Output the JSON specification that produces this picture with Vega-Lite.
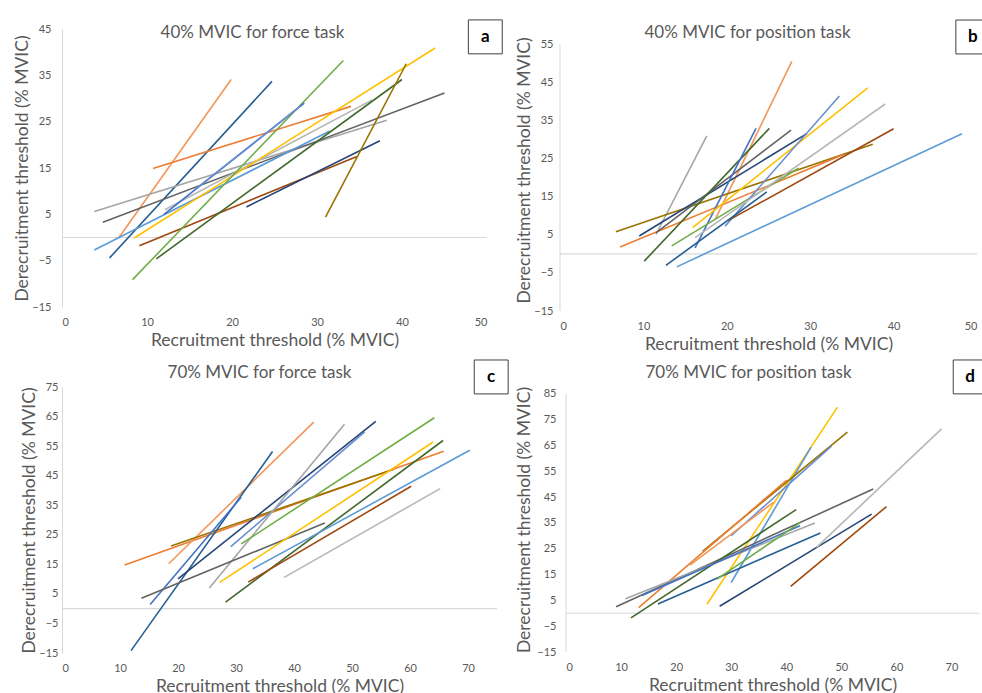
{
  "$schema": "https://vega.github.io/schema/vega-lite/v6.json",
  "padding": {"left": 13, "top": 17, "right": 0, "bottom": 0},
  "background": "white",
  "datasets": {
    "segs": [
      {"p":"a","s":14,"x":6.7,"y":0},{"p":"a","s":14,"x":19.9,"y":34.1},
      {"p":"a","s":11,"x":5.6,"y":-4.4},{"p":"a","s":11,"x":24.7,"y":33.7},
      {"p":"a","s":2,"x":10.7,"y":14.9},{"p":"a","s":2,"x":34,"y":28.3},
      {"p":"a","s":3,"x":3.8,"y":5.6},{"p":"a","s":3,"x":38.2,"y":25.3},
      {"p":"a","s":9,"x":4.8,"y":3.3},{"p":"a","s":9,"x":45,"y":31.2},
      {"p":"a","s":15,"x":12.1,"y":6},{"p":"a","s":15,"x":36.5,"y":29.7},
      {"p":"a","s":5,"x":3.8,"y":-2.7},{"p":"a","s":5,"x":31.5,"y":23},
      {"p":"a","s":4,"x":8.5,"y":-0.1},{"p":"a","s":4,"x":43.9,"y":40.9},
      {"p":"a","s":8,"x":9.1,"y":-1.8},{"p":"a","s":8,"x":34.7,"y":17.5},
      {"p":"a","s":6,"x":8.3,"y":-9.1},{"p":"a","s":6,"x":33.1,"y":38.2},
      {"p":"a","s":12,"x":11.1,"y":-4.6},{"p":"a","s":12,"x":40,"y":34.1},
      {"p":"a","s":7,"x":21.7,"y":6.6},{"p":"a","s":7,"x":37.4,"y":20.9},
      {"p":"a","s":10,"x":31,"y":4.4},{"p":"a","s":10,"x":40.5,"y":37.5},
      {"p":"a","s":1,"x":12,"y":5},{"p":"a","s":1,"x":28.5,"y":29},
      {"p":"a","s":13,"x":15.6,"y":10.3},{"p":"a","s":13,"x":28,"y":28.3},

      {"p":"b","s":3,"x":11.5,"y":5.1},{"p":"b","s":3,"x":17.6,"y":31},
      {"p":"b","s":14,"x":18.6,"y":9},{"p":"b","s":14,"x":27.8,"y":50.6},
      {"p":"b","s":10,"x":6.7,"y":5.8},{"p":"b","s":10,"x":37.5,"y":28.8},
      {"p":"b","s":2,"x":7.2,"y":1.8},{"p":"b","s":2,"x":34,"y":26.1},
      {"p":"b","s":7,"x":9.5,"y":4.7},{"p":"b","s":7,"x":29.6,"y":31.6},
      {"p":"b","s":9,"x":11.5,"y":5.5},{"p":"b","s":9,"x":27.7,"y":32.5},
      {"p":"b","s":12,"x":10.1,"y":-1.9},{"p":"b","s":12,"x":25.1,"y":33},
      {"p":"b","s":1,"x":16.2,"y":1.6},{"p":"b","s":1,"x":23.5,"y":33},
      {"p":"b","s":6,"x":13.4,"y":2.1},{"p":"b","s":6,"x":28.6,"y":22.5},
      {"p":"b","s":4,"x":15.9,"y":6.9},{"p":"b","s":4,"x":36.9,"y":43.6},
      {"p":"b","s":13,"x":19.8,"y":7.3},{"p":"b","s":13,"x":33.5,"y":41.5},
      {"p":"b","s":15,"x":16.2,"y":4.3},{"p":"b","s":15,"x":39,"y":39.4},
      {"p":"b","s":8,"x":20.2,"y":8.8},{"p":"b","s":8,"x":40,"y":32.9},
      {"p":"b","s":11,"x":12.7,"y":-3},{"p":"b","s":11,"x":24.8,"y":16.3},
      {"p":"b","s":5,"x":14,"y":-3.4},{"p":"b","s":5,"x":48.2,"y":31.6},

      {"p":"c","s":2,"x":10.8,"y":14.8},{"p":"c","s":2,"x":65.8,"y":53.3},
      {"p":"c","s":14,"x":18.4,"y":15.2},{"p":"c","s":14,"x":43.4,"y":63.1},
      {"p":"c","s":10,"x":18.8,"y":21.2},{"p":"c","s":10,"x":57.1,"y":47.1},
      {"p":"c","s":11,"x":11.9,"y":-14.2},{"p":"c","s":11,"x":36.3,"y":53.2},
      {"p":"c","s":1,"x":15.2,"y":1.4},{"p":"c","s":1,"x":30.9,"y":37.7},
      {"p":"c","s":7,"x":20,"y":10.1},{"p":"c","s":7,"x":54.1,"y":63.4},
      {"p":"c","s":13,"x":29.1,"y":21},{"p":"c","s":13,"x":52.2,"y":59.8},
      {"p":"c","s":3,"x":25.4,"y":7},{"p":"c","s":3,"x":48.7,"y":62.4},
      {"p":"c","s":6,"x":30.9,"y":21.9},{"p":"c","s":6,"x":64.2,"y":64.6},
      {"p":"c","s":9,"x":13.7,"y":3.5},{"p":"c","s":9,"x":45.3,"y":29},
      {"p":"c","s":4,"x":27.2,"y":8.9},{"p":"c","s":4,"x":64,"y":56.4},
      {"p":"c","s":12,"x":28.2,"y":2.2},{"p":"c","s":12,"x":65.7,"y":56.9},
      {"p":"c","s":5,"x":32.9,"y":13.5},{"p":"c","s":5,"x":70.3,"y":53.6},
      {"p":"c","s":8,"x":32.1,"y":9},{"p":"c","s":8,"x":60.2,"y":41.4},
      {"p":"c","s":15,"x":38.3,"y":10.6},{"p":"c","s":15,"x":65.2,"y":40.6},

      {"p":"d","s":4,"x":25.6,"y":3.5},{"p":"d","s":4,"x":49.3,"y":79.8},
      {"p":"d","s":5,"x":30,"y":11.9},{"p":"d","s":5,"x":44.5,"y":64.3},
      {"p":"d","s":10,"x":24.8,"y":24},{"p":"d","s":10,"x":51.1,"y":70.1},
      {"p":"d","s":13,"x":30,"y":30},{"p":"d","s":13,"x":48.2,"y":64.7},
      {"p":"d","s":2,"x":13.2,"y":2.2},{"p":"d","s":2,"x":40.1,"y":51.6},
      {"p":"d","s":14,"x":22.5,"y":18.6},{"p":"d","s":14,"x":37.7,"y":43},
      {"p":"d","s":9,"x":9.1,"y":2.5},{"p":"d","s":9,"x":55.8,"y":48.1},
      {"p":"d","s":3,"x":10.8,"y":5.6},{"p":"d","s":3,"x":45.2,"y":34.9},
      {"p":"d","s":12,"x":11.8,"y":-1.8},{"p":"d","s":12,"x":41.8,"y":40.1},
      {"p":"d","s":1,"x":13.8,"y":6.9},{"p":"d","s":1,"x":42.5,"y":33.9},
      {"p":"d","s":11,"x":16.7,"y":3.6},{"p":"d","s":11,"x":46.2,"y":31.1},
      {"p":"d","s":6,"x":27.4,"y":13.2},{"p":"d","s":6,"x":42.6,"y":35.2},
      {"p":"d","s":7,"x":27.9,"y":2.7},{"p":"d","s":7,"x":55.5,"y":38.4},
      {"p":"d","s":15,"x":45.5,"y":25.5},{"p":"d","s":15,"x":68.2,"y":71.4},
      {"p":"d","s":8,"x":40.8,"y":10.4},{"p":"d","s":8,"x":58.2,"y":41.3}
    ]
  },
  "vconcat": [
    {
      "hconcat": [
        {
          "width": 425, "height": 278,
          "title": {"text": "40% MVIC for force task", "offset": -24, "dx": -22},
          "layer": [
            {"data": {"values": [{}]}, "mark": {"type": "rule", "color": "#d9d9d9", "strokeWidth": 1.2}, "encoding": {"y": {"datum": 0, "type": "quantitative"}}},
            {"data": {"name": "segs"}, "transform": [{"filter": "datum.p === 'a'"}],
             "mark": {"type": "line", "strokeWidth": 1.6},
             "encoding": {
               "x": {"field": "x", "type": "quantitative", "scale": {"domain": [0, 50], "nice": false}, "axis": {"values": [0,10,20,30,40,50], "tickCount": 30, "title": "Recruitment threshold (% MVIC)", "labelOverlap": false}},
               "y": {"field": "y", "type": "quantitative", "scale": {"domain": [-15, 45], "nice": false, "zero": false}, "axis": {"values": [-15,-5,5,15,25,35,45], "tickCount": 30, "title": "Derecruitment threshold (% MVIC)", "labelOverlap": false, "labelPadding": 11, "titlePadding": 0}},
               "color": {"field": "s", "type": "nominal", "legend": null, "scale": {"domain": [1,2,3,4,5,6,7,8,9,10,11,12,13,14,15,16], "range": ["#4472C4","#ED7D31","#A5A5A5","#FFC000","#5B9BD5","#70AD47","#264478","#9E480E","#636363","#997300","#255E91","#43682B","#698ED0","#F1975A","#B7B7B7","#FFCD33"]}},
               "detail": {"field": "s", "type": "nominal"}
             }},
            {"data": {"values": [{}]}, "mark": {"type": "point", "shape": "square", "size": 1150, "filled": true, "fill": "white", "stroke": "#404040", "strokeWidth": 1, "opacity": 1}, "encoding": {"x": {"datum": 49.8}, "y": {"datum": 43.3}}},
            {"data": {"values": [{}]}, "mark": {"type": "text", "fontWeight": "bold", "fontSize": 17, "color": "black"}, "encoding": {"x": {"datum": 49.8}, "y": {"datum": 43.3}, "text": {"value": "a"}}}
          ]
        },
        {
          "width": 417, "height": 282,
          "title": {"text": "40% MVIC for position task", "offset": -24, "dx": -21},
          "layer": [
            {"data": {"values": [{}]}, "mark": {"type": "rule", "color": "#d9d9d9", "strokeWidth": 1.2}, "encoding": {"y": {"datum": 0, "type": "quantitative"}}},
            {"data": {"values": [{}]}, "mark": {"type": "rule", "color": "#d9d9d9", "strokeWidth": 1}, "encoding": {"x": {"datum": 0, "type": "quantitative"}, "y": {"datum": -15, "type": "quantitative"}, "y2": {"datum": 55}}},
            {"data": {"name": "segs"}, "transform": [{"filter": "datum.p === 'b'"}],
             "mark": {"type": "line", "strokeWidth": 1.6},
             "encoding": {
               "x": {"field": "x", "type": "quantitative", "scale": {"domain": [0, 50], "nice": false}, "axis": {"values": [0,10,20,30,40,50], "tickCount": 30, "title": "Recruitment threshold (% MVIC)", "labelOverlap": false}},
               "y": {"field": "y", "type": "quantitative", "scale": {"domain": [-15, 59.1], "nice": false, "zero": false}, "axis": {"values": [-15,-5,5,15,25,35,45,55], "tickCount": 30, "title": "Derecruitment threshold (% MVIC)", "domain": false, "labelOverlap": false, "labelPadding": 7, "titlePadding": 0}},
               "color": {"field": "s", "type": "nominal", "legend": null, "scale": {"domain": [1,2,3,4,5,6,7,8,9,10,11,12,13,14,15,16], "range": ["#4472C4","#ED7D31","#A5A5A5","#FFC000","#5B9BD5","#70AD47","#264478","#9E480E","#636363","#997300","#255E91","#43682B","#698ED0","#F1975A","#B7B7B7","#FFCD33"]}},
               "detail": {"field": "s", "type": "nominal"}
             }},
            {"data": {"values": [{}]}, "mark": {"type": "point", "shape": "square", "size": 1150, "filled": true, "fill": "white", "stroke": "#404040", "strokeWidth": 1, "opacity": 1}, "encoding": {"x": {"datum": 49.5}, "y": {"datum": 57}}},
            {"data": {"values": [{}]}, "mark": {"type": "text", "fontWeight": "bold", "fontSize": 17, "color": "black"}, "encoding": {"x": {"datum": 49.5}, "y": {"datum": 57}, "text": {"value": "b"}}}
          ]
        }
      ],
      "spacing": 10
    },
    {
      "hconcat": [
        {
          "width": 435, "height": 266,
          "title": {"text": "70% MVIC for force task", "offset": -24, "dx": -20},
          "layer": [
            {"data": {"values": [{}]}, "mark": {"type": "rule", "color": "#d9d9d9", "strokeWidth": 1.2}, "encoding": {"y": {"datum": 0, "type": "quantitative"}}},
            {"data": {"name": "segs"}, "transform": [{"filter": "datum.p === 'c'"}],
             "mark": {"type": "line", "strokeWidth": 1.6},
             "encoding": {
               "x": {"field": "x", "type": "quantitative", "scale": {"domain": [0, 75], "nice": false}, "axis": {"values": [0,10,20,30,40,50,60,70], "tickCount": 30, "title": "Recruitment threshold (% MVIC)", "labelOverlap": false}},
               "y": {"field": "y", "type": "quantitative", "scale": {"domain": [-15, 75], "nice": false, "zero": false}, "axis": {"values": [-15,-5,5,15,25,35,45,55,65,75], "tickCount": 30, "title": "Derecruitment threshold (% MVIC)", "labelOverlap": false, "labelPadding": 4, "titlePadding": 0}},
               "color": {"field": "s", "type": "nominal", "legend": null, "scale": {"domain": [1,2,3,4,5,6,7,8,9,10,11,12,13,14,15,16], "range": ["#4472C4","#ED7D31","#A5A5A5","#FFC000","#5B9BD5","#70AD47","#264478","#9E480E","#636363","#997300","#255E91","#43682B","#698ED0","#F1975A","#B7B7B7","#FFCD33"]}},
               "detail": {"field": "s", "type": "nominal"}
             }},
            {"data": {"values": [{}]}, "mark": {"type": "point", "shape": "square", "size": 1150, "filled": true, "fill": "white", "stroke": "#404040", "strokeWidth": 1, "opacity": 1}, "encoding": {"x": {"datum": 74}, "y": {"datum": 78.4}}},
            {"data": {"values": [{}]}, "mark": {"type": "text", "fontWeight": "bold", "fontSize": 17, "color": "black"}, "encoding": {"x": {"datum": 74}, "y": {"datum": 78.4}, "text": {"value": "c"}}}
          ]
        },
        {
          "width": 413, "height": 265,
          "title": {"text": "70% MVIC for position task", "offset": -24, "dx": -24},
          "layer": [
            {"data": {"values": [{}]}, "mark": {"type": "rule", "color": "#d9d9d9", "strokeWidth": 1.2}, "encoding": {"y": {"datum": 0, "type": "quantitative"}}},
            {"data": {"values": [{}]}, "mark": {"type": "rule", "color": "#d9d9d9", "strokeWidth": 1}, "encoding": {"x": {"datum": 0, "type": "quantitative"}, "y": {"datum": -15, "type": "quantitative"}, "y2": {"datum": 85}}},
            {"data": {"name": "segs"}, "transform": [{"filter": "datum.p === 'd'"}],
             "mark": {"type": "line", "strokeWidth": 1.6},
             "encoding": {
               "x": {"field": "x", "type": "quantitative", "scale": {"domain": [0, 75], "nice": false}, "axis": {"values": [0,10,20,30,40,50,60,70], "tickCount": 30, "title": "Recruitment threshold (% MVIC)", "labelOverlap": false}},
               "y": {"field": "y", "type": "quantitative", "scale": {"domain": [-15, 87.6], "nice": false, "zero": false}, "axis": {"values": [-15,-5,5,15,25,35,45,55,65,75,85], "tickCount": 30, "title": "Derecruitment threshold (% MVIC)", "domain": false, "labelOverlap": false, "labelPadding": 10, "titlePadding": 3}},
               "color": {"field": "s", "type": "nominal", "legend": null, "scale": {"domain": [1,2,3,4,5,6,7,8,9,10,11,12,13,14,15,16], "range": ["#4472C4","#ED7D31","#A5A5A5","#FFC000","#5B9BD5","#70AD47","#264478","#9E480E","#636363","#997300","#255E91","#43682B","#698ED0","#F1975A","#B7B7B7","#FFCD33"]}},
               "detail": {"field": "s", "type": "nominal"}
             }},
            {"data": {"values": [{}]}, "mark": {"type": "point", "shape": "square", "size": 1150, "filled": true, "fill": "white", "stroke": "#404040", "strokeWidth": 1, "opacity": 1}, "encoding": {"x": {"datum": 73.4}, "y": {"datum": 91.5}}},
            {"data": {"values": [{}]}, "mark": {"type": "text", "fontWeight": "bold", "fontSize": 17, "color": "black"}, "encoding": {"x": {"datum": 73.4}, "y": {"datum": 91.5}, "text": {"value": "d"}}}
          ]
        }
      ],
      "spacing": 4
    }
  ],
  "spacing": 4,
  "config": {
    "font": "Lato",
    "view": {"stroke": null},
    "axis": {"grid": false, "ticks": false, "labelOverlap": false, "labelColor": "#595959", "labelFontSize": 11, "titleColor": "#595959", "titleFontSize": 17.5, "titleFontWeight": "normal", "labelFont": "Lato", "titleFont": "Lato"},
    "axisX": {"domain": false, "labelPadding": 9, "titlePadding": 4},
    "axisY": {"domain": true, "domainColor": "#d9d9d9"},
    "title": {"fontSize": 17, "fontWeight": "normal", "color": "#595959", "font": "Lato"},
    "concat": {"spacing": 10}
  }
}
